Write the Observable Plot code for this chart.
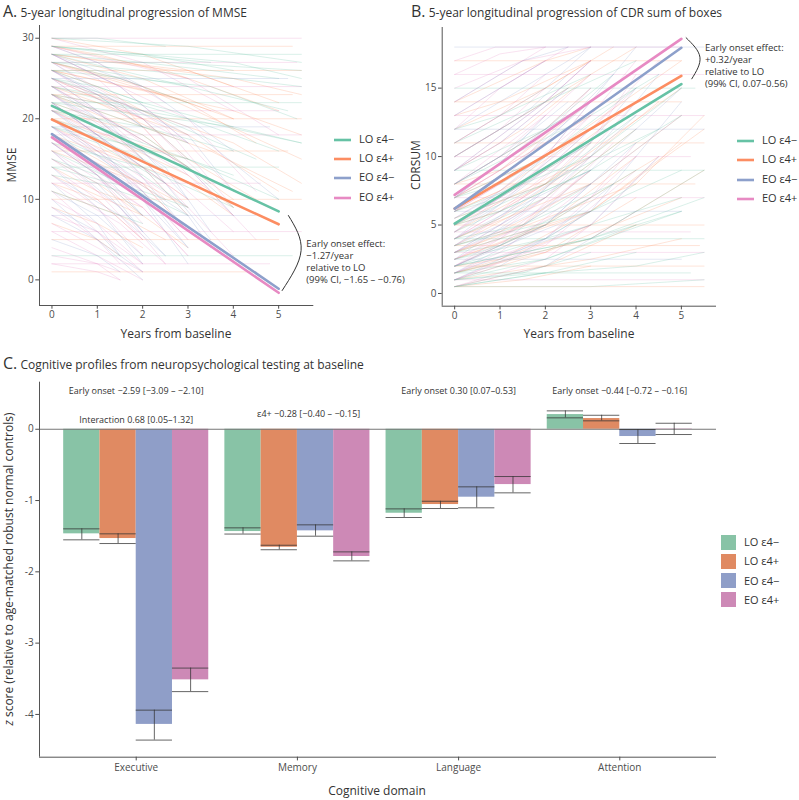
<!DOCTYPE html>
<html><head><meta charset="utf-8">
<script src="https://cdn.jsdelivr.net/npm/d3@7"></script>
<script src="https://cdn.jsdelivr.net/npm/@observablehq/plot@0.6"></script>
<style>
body{margin:0;background:#fff;font-family:"Open Sans",sans-serif;color:#333}
#root{position:relative;width:799px;height:800px;overflow:hidden;background:#fff}
.title{font-size:12px;white-space:nowrap;color:#333;line-height:16px}
.title span{font-size:16px}
.axt{font-size:12px;white-space:nowrap;color:#333;transform:translate(-50%,-50%);line-height:14px}
.rot{transform:translate(-50%,-50%) rotate(-90deg)}
.leg{font-size:11px;color:#333;white-space:nowrap;line-height:14px}
svg{overflow:visible}
</style></head><body><div id="root"></div>
<script>
// ---------- data ----------
const groups = ["LO ε4−", "LO ε4+", "EO ε4−", "EO ε4+"];
const lineColors = ["#66c2a5", "#fc8d62", "#8da0cb", "#e78ac3"];
const barColors = ["#88c3a6", "#e08a62", "#8f9ec8", "#cd89b6"];

const yearTicks = [0, 1, 2, 3, 4, 5];
const mmseTicks = [0, 10, 20, 30];
const cdrTicks = [0, 5, 10, 15];
const zTicks = [0, -1, -2, -3, -4];

// Group mean trajectories (value at year 0, value at year 5)
const meanYears = [0, 5];
const mmseMeanStart = [21.6, 19.9, 18.1, 17.7];
const mmseMeanEnd = [8.5, 6.9, -1.1, -1.6];
const cdrMeanStart = [5.1, 6.2, 6.2, 7.2];
const cdrMeanEnd = [15.3, 15.9, 17.95, 18.6];

// Individual trajectories (estimated): [baseline, t1, v1, t2, v2] per group
const mmseTraj = [
  [[29,2,28,4,26],[28,3,24,5.2,21],[27,1.5,25,3,22],[26,2,22,4,19],[25,3,20,5,16],[24,2,21,4.5,15],[23,1,21,3,17],[22,2,18,3.5,12],[21,1.5,18,4,13],[20,2,15,3,12],[19,1,17,2.5,12],[18,2,13,3,9],[16,1.5,12,3,8],[30,3,29,5.5,27],[27,2.5,27,5.5,26],[24,1,23,2,19],[20,3,14,4,9],[15,1,13,2,8],[29,4,27,5.5,25],[26,3.5,24,5.4,20],
   [30,1,30,2.5,29],[29,1.5,28,3.5,27],[28,2,27,5,25],[27,4,25,5.5,24],[25,1,24,2,22],[23,3,20,5.5,17],[22,4,19,5.5,17],[21,2,19,4,16],[19,3,15,5,10],[17,2,14,4,9],[14,2,11,3,9],[13,1,12,2,10],[11,1,9,2,7],[26,1,26,3,24]],
  [[28,2,25,4,20],[26,1,24,3,18],[25,2,20,3,15],[24,1.5,22,2.5,16],[23,2,18,4,10],[22,1,20,2,15],[21,3,13,4,9],[20,1.5,16,3,10],[19,2,14,3,8],[18,1,15,2.5,10],[17,2,12,3,6],[15,1,12,2,8],[13,2,8,3,4],[29,2.5,26,5,21],[27,3,22,4.5,17],[25,4,17,5.5,12],[12,1,10,2,5],[28,4,25,5.5,23],[23,3.5,16,5.3,11],[26,2.5,23,4,20],
   [30,2,28,4,24],[29,1,28,3,25],[28,3,26,5,22],[27,1.5,25,3.5,21],[26,4,21,5.5,18],[24,3,18,5,11],[23,1,22,2.5,18],[21,1.5,19,3,14],[20,3,15,4.5,10],[18,3,12,4,8],[16,2,12,3,9],[14,1,11,2,9],[11,1.5,8,2.5,5],[9,1,7,2,4],[7,1,5,1.5,3],[27,2,24,5.5,15]],
  [[27,2,20,3,15],[25,1,21,2.5,12],[24,2,16,3,10],[22,1.5,16,3,6],[21,1,17,2,10],[20,2,11,3,4],[19,1,14,2,8],[18,2,10,3,2],[17,1,13,2,6],[16,1.5,9,2.5,3],[14,1,9,2,2],[12,1,7,1.5,3],[10,1,5,2,0],[26,3,18,4,11],[23,2.5,14,3.5,6],[8,1,5,2,1],[28,2,24,4,16],[25,3,19,5,10],
   [29,1,27,2,24],[28,1.5,24,3,17],[26,1,23,2,19],[24,3,14,4,8],[23,1,20,2,15],[22,2.5,12,3.5,5],[21,2,14,3,8],[20,1,16,2,12],[19,3,8,3.5,4],[17,2,10,3,4],[15,1,12,2,6],[13,1.5,8,2.5,3],[11,1,8,2,3],[9,1,6,1.5,3],[5,1,3,1.5,1]],
  [[28,1.5,24,3,17],[26,2,19,3,13],[25,1,21,2,16],[23,2,15,3,9],[22,1,18,2.5,10],[20,1.5,14,3,5],[19,2,12,3,6],[18,1,13,2,7],[17,2,9,3,3],[16,1,11,2,5],[15,1.5,9,2.5,2],[13,1,9,2,3],[11,1,6,2,1],[9,1,5,1.5,2],[27,2.5,19,4,9],[24,3,14,4.5,5],[6,1,3,2,0],[30,2,27,4,21],[29,3,25,5,18],[21,2,16,4,6],
   [29,1,27,2.5,22],[28,3,20,4.5,11],[27,1,25,2,20],[26,3,17,4,11],[25,2,20,3.5,12],[24,1,21,2,17],[23,3,13,4,8],[22,2,14,3,10],[21,1,18,2,13],[20,3,9,4,3],[19,1,16,2,11],[18,2,11,3,5],[17,1,13,2,8],[16,2,9,3,3],[14,1,10,2,5],[12,1.5,7,2.5,2],[10,1,7,2,2],[8,1,6,2,2],[7,1,4,2,1],[4,1,2,1.5,0],[3,1,2,1.5,1],[2,1,1,1.5,0]]
];
// Flat trajectories: [group, level, last year]
const mmseFlat = [[3,30,5.5],[1,29,5.3],[0,28,5.5],[3,27,5.4],[1,26,5.5],[2,25,5.2],[3,24,5.5],[1,23,5.3],[0,22,5.5],[3,21,5.0],[1,20,5.5],[2,19,4.8],[3,18,5.5],[1,16,5.2],[0,14,5.0],[3,12,4.6],[1,10,5.5],[2,8,4.5],[3,6,5.5],[1,5,5.0],[0,3,5.3],[3,2,4.8],[1,1,4.5]];

const cdrTraj = [
  [[0.5,2,1.5,4,3],[1,2,2.5,5,6],[1.5,3,4,5.5,7],[2,2,4,4,8],[2.5,1,3.5,3,7],[3,2,5,4,9],[3.5,1.5,5,3,8],[4,2,7,4,12],[4.5,3,9,5,13],[5,2,8,4,13],[6,1,7,3,11],[7,2,10,4,15],[8,1.5,11,3,14],[9,2,12,3.5,16],[10,1,12,2.5,15],[0.5,3,0.5,5.5,1],[1,4,2,5.5,3],[2,3,4,5.5,9],
   [0.5,1,1,2,1.5],[1,1.5,1.5,3,3],[1.5,2,2.5,4,5],[2,3,4,5,6],[2.5,2,4,5,7],[3,1,3.5,2,5],[3.5,3,6,5,9],[4,1.5,5,3.5,8],[5,1,6,3,9],[5.5,2,8,4.5,12],[6,3,10,5,15],[7,1,8,3,12],[8,3,13,4.5,16],[11,2,14,4,17],[12,1,13,3,16]],
  [[0.5,2,2,4,5],[1,2,3,4,7],[1.5,1,2.5,3,6],[2,2,5,4,10],[2.5,3,6,5,11],[3,1.5,5,3,9],[3.5,2,7,4,12],[4,1,5.5,3,10],[4.5,2,8,3,11],[5,3,10,4.5,14],[6,2,9,4,14],[7,1,9,3,14],[8,2,12,3,15],[9,1.5,12,3,16],[11,2,15,3,17],[1.5,3,4,5.5,9],[3,4,8,5.5,13],
   [0.5,1.5,1,3,2],[1,3,2.5,5,4],[1.5,2,3,5,7],[2,1,2.5,3,5],[2.5,2,5,4.5,10],[3,3,6,5.5,12],[3.5,1,4.5,3,8],[4,3,8,5,13],[5,1,6,2.5,9],[5.5,2,8,5,15],[6,1,7.5,3,12],[7,2,10,5,17],[8,1,9,3,13],[10,2,14,4,18],[12,2,15,3.5,18],[13,1,14,3,17],[14,2,17,3,18]],
  [[1,2,4,3.5,8],[1.5,2,5,3,8],[2,1,3.5,3,9],[2.5,2,7,4,13],[3,1.5,6,3,11],[4,2,9,3,12],[4.5,1,6.5,2.5,11],[5,2,10,3,14],[6,1,8.5,3,14],[7,2,12,3,15],[8,1,10,2.5,14],[9,2,14,3,17],[10,1.5,13,2.5,16],[12,2,16,3,18],[3.5,3,10,4.5,16],[2,3,6,5,14],
   [0.5,2,2,4,6],[1,1,2,3,6],[1.5,3,5,4.5,10],[2,2,5,4,11],[3,3,8,5,13],[3.5,1,5,2.5,9],[4,3,9,5,15],[5,1,7,2,10],[5.5,3,11,4,15],[6,2,11,3.5,16],[7,1,9.5,2,13],[8,3,14,4,18],[9,1,11,2.5,15],[11,2,15,3,18],[13,1,15,2,17],[14,1.5,17,2.5,18]],
  [[1,2,3.5,4,9],[1.5,1,3,3,8],[2,2,6,3.5,11],[2.5,1.5,5,3,10],[3,2,7,4,14],[3.5,1,5.5,2.5,10],[4,2,8,3.5,13],[5,1.5,8,3,13],[6,2,10,3,14],[7,1,9,2.5,13],[8,2,13,3,16],[9,1,11,2.5,15],[10,2,14,3,17],[11,1,13,2,16],[13,2,17,2.5,18],[16,1,17.5,2,18],[17,0.9,18,5,18],[4.5,3,12,4.5,17],
   [0.5,2,2.5,3,5],[1,3,5,4.5,10],[1.5,2,4,4,10],[2,3,7,4,11],[2.5,1,4,3,9],[3,1,4.5,2,7],[4,1,6,2.5,10],[4.5,2,9,4,15],[5,3,11,4,16],[5.5,1,7.5,3,13],[6,1,8,3,15],[7,3,13,4,17],[8,1,10,2,13],[9,2,14,3,17],[10,1,12,2,15],[12,1,15,2,17],[14,1,16,2,18],[15,1.5,17,3,18]]
];
const cdrFlat = [[1,0.5,5.5],[3,1,5.5],[0,1.5,5.2],[1,2,5.5],[2,2.5,5.0],[3,3,5.5],[1,3.5,5.4],[0,4,5.5],[3,4.5,5.2],[1,5,5.5],[2,6,5.0],[3,7,5.5],[1,8,5.3],[0,9,5.5],[3,10,5.2],[1,11,5.5],[2,12,5.5],[3,13,5.5],[1,14,5.0],[0,15,5.3],[3,16,5.5],[1,17,5.0],[2,18,5.5]];

// Annotations (data coordinates)
const mmseBracketX = [5.215, 5.495, 5.077];
const mmseBracketY = [7.99, 3.65, -1.32];
const mmseNote = "Early onset effect:\n−1.27/year\nrelative to LO\n(99% CI, −1.65 – −0.76)";
const mmseNoteX = 5.61, mmseNoteY = 2.31;
const cdrBracketX = [5.105, 5.41, 5.23];
const cdrBracketY = [18.68, 17.26, 15.68];
const cdrNote = "Early onset effect:\n+0.32/year\nrelative to LO\n(99% CI, 0.07–0.56)";
const cdrNoteX = 5.52, cdrNoteY = 16.67;

// Panel C: cognitive domain z scores, rows = groups, cols = domains
const domains = ["Executive", "Memory", "Language", "Attention"];
const zMean = [[-1.467,-1.435,-1.178,0.206],[-1.533,-1.655,-1.056,0.15],[-4.14,-1.425,-0.953,-0.102],[-3.515,-1.785,-0.776,0.005]];
const zLow  = [[-1.551,-1.47,-1.238,0.16],[-1.603,-1.69,-1.112,0.118],[-4.36,-1.50,-1.102,-0.2],[-3.68,-1.846,-0.892,-0.074]];
const zHigh = [[-1.397,-1.383,-1.117,0.258],[-1.467,-1.627,-1.01,0.196],[-3.94,-1.341,-0.808,-0.004],[-3.35,-1.72,-0.663,0.084]];
const zNotes = ["Early onset −2.59 [−3.09 – −2.10]", "Interaction 0.68 [0.05–1.32]", "ε4+ −0.28 [−0.40 – −0.15]", "Early onset 0.30 [0.07–0.53]", "Early onset −0.44 [−0.72 – −0.16]"];
const zNoteDomain = [0, 0, 1.07, 2, 3];
const zNoteY = [0.533, 0.132, 0.216, 0.533, 0.533];

// ---------- helpers ----------
const root = document.getElementById("root");
function place(el, left, top) { el.style.position = "absolute"; el.style.left = left + "px"; el.style.top = top + "px"; root.appendChild(el); return el; }
function div(cls, html, left, top) { const d = document.createElement("div"); d.className = cls; d.innerHTML = html; return place(d, left, top); }

function buildTraj(sets, flat) {
  const pts = []; let id = 0;
  sets.forEach((arr, g) => arr.forEach(r => {
    pts.push({id, g, t: 0, v: r[0]});
    for (let k = 1; k < r.length; k += 2) pts.push({id, g, t: r[k], v: r[k + 1]});
    id++;
  }));
  flat.forEach(([g, lev, tEnd]) => { pts.push({id, g, t: 0, v: lev}); pts.push({id, g, t: tEnd, v: lev}); id++; });
  return pts;
}

const baseStyle = {fontFamily: "Open Sans", fontSize: "10px", color: "#4d4d4d", background: "transparent", overflow: "visible"};

function longPanel(opts) {
  const traj = buildTraj(opts.traj, opts.flat);
  const marks = [];
  [1, 3, 0, 2].forEach(i => marks.push(Plot.line(traj.filter(d => d.g === i), {x: "t", y: "v", z: "id", stroke: lineColors[i], strokeOpacity: 0.3, strokeWidth: 0.8})));
  groups.forEach((g, i) => marks.push(Plot.line(meanYears.map((t, k) => ({t, v: k === 0 ? opts.start[i] : opts.end[i]})), {x: "t", y: "v", stroke: lineColors[i], strokeWidth: 2.6})));
  marks.push(Plot.line(opts.bx.map((x, k) => ({x, y: opts.by[k]})), {x: "x", y: "y", curve: "natural", stroke: "#333", strokeWidth: 1}));
  marks.push(Plot.text([opts.note], {x: opts.noteX, y: opts.noteY, text: d => d, textAnchor: "start", lineAnchor: "middle", lineHeight: 1.27, fontSize: 9.5, fill: "#333"}));
  marks.push(Plot.ruleX([opts.xd[0]], {stroke: "#555", strokeWidth: 1}));
  marks.push(Plot.ruleY([opts.yd[0]], {stroke: "#555", strokeWidth: 1}));
  marks.push(Plot.axisX({ticks: yearTicks, tickSize: 3.7, tickPadding: 2, fontSize: 10, label: null, tickFormat: d => String(d)}));
  marks.push(Plot.axisY({ticks: opts.yticks, tickSize: 3.7, tickPadding: 2, fontSize: 10, label: null, tickFormat: d => String(d)}));
  return Plot.plot({
    width: opts.width, height: opts.height,
    marginLeft: opts.ml, marginRight: opts.mr, marginTop: opts.mt, marginBottom: opts.mb,
    x: {domain: opts.xd}, y: {domain: opts.yd},
    style: baseStyle, marks
  });
}

// ---------- Panel A ----------
const pA = longPanel({traj: mmseTraj, flat: mmseFlat, start: mmseMeanStart, end: mmseMeanEnd,
  bx: mmseBracketX, by: mmseBracketY, note: mmseNote, noteX: mmseNoteX, noteY: mmseNoteY,
  xd: [-0.275, 5.775], yd: [-3.18, 31.58], yticks: mmseTicks,
  width: 400, height: 322, ml: 39, mr: 86.7, mt: 5, mb: 37});
place(pA, 0, 20);

// ---------- Panel B ----------
const pB = longPanel({traj: cdrTraj, flat: cdrFlat, start: cdrMeanStart, end: cdrMeanEnd,
  bx: cdrBracketX, by: cdrBracketY, note: cdrNote, noteX: cdrNoteX, noteY: cdrNoteY,
  xd: [-0.275, 5.775], yd: [-0.93, 19.43], yticks: cdrTicks,
  width: 399, height: 322, ml: 41.7, mr: 83, mt: 7, mb: 36.3});
place(pB, 400, 20);

// ---------- Panel C ----------
const bars = [];
groups.forEach((g, gi) => domains.forEach((dname, di) => {
  const x1 = di - 0.45 + gi * 0.225;
  bars.push({g: gi, x1, x2: x1 + 0.225, xc: x1 + 0.1125, v: zMean[gi][di], lo: zLow[gi][di], hi: zHigh[gi][di]});
}));
const errStroke = "#333";
const pC = Plot.plot({
  width: 799, height: 425, marginLeft: 39, marginRight: 83, marginTop: 6.7, marginBottom: 43.3,
  x: {domain: [-0.6, 3.6]}, y: {domain: [-4.6, 0.66]},
  style: baseStyle,
  marks: [
    Plot.rectY(bars, {x1: "x1", x2: "x2", y1: 0, y2: "v", fill: d => barColors[d.g]}),
    Plot.ruleY([0], {stroke: "#777", strokeWidth: 1}),
    Plot.ruleX(bars, {x: "xc", y1: "lo", y2: "hi", stroke: errStroke, strokeOpacity: 0.75, strokeWidth: 1}),
    Plot.ruleY(bars, {y: "lo", x1: "x1", x2: "x2", stroke: errStroke, strokeOpacity: 0.75, strokeWidth: 1}),
    Plot.ruleY(bars, {y: "hi", x1: "x1", x2: "x2", stroke: errStroke, strokeOpacity: 0.75, strokeWidth: 1}),
    Plot.text(zNotes, {x: (d, i) => zNoteDomain[i], y: (d, i) => zNoteY[i], text: d => d, fontSize: 9, fill: "#333"}),
    Plot.ruleX([-0.6], {stroke: "#555", strokeWidth: 1}),
    Plot.ruleY([-4.6], {stroke: "#555", strokeWidth: 1}),
    Plot.axisX({ticks: [0, 1, 2, 3], tickSize: 3.7, tickPadding: 3, fontSize: 10, label: null, tickFormat: i => domains[i]}),
    Plot.axisY({ticks: zTicks, tickSize: 3.7, tickPadding: 2, fontSize: 10, label: null, tickFormat: d => String(d)})
  ]
});
place(pC, 0, 375);

// ---------- titles & axis titles ----------
div("title", "<span>A.</span> 5-year longitudinal progression of MMSE", 3, 3);
div("title", "<span>B.</span> 5-year longitudinal progression of CDR sum of boxes", 411, 3);
div("title", "<span>C.</span> Cognitive profiles from neuropsychological testing at baseline", 3, 355);
div("axt", "Years from baseline", 176, 334);
div("axt", "Years from baseline", 579, 334);
div("axt rot", "MMSE", 12, 165);
div("axt rot", "CDRSUM", 416, 165);
div("axt rot", "<i>z</i> score (relative to age-matched robust normal controls)", 9, 569);
div("axt", "Cognitive domain", 377, 791);

// ---------- legends ----------
function lineLegend(x, yCenters) {
  groups.forEach((g, i) => {
    const d = document.createElement("div");
    d.className = "leg";
    d.innerHTML = `<svg width="17" height="4" style="vertical-align:middle;margin-right:8px"><line x1="0" x2="17" y1="2" y2="2" stroke="${lineColors[i]}" stroke-width="2.6"/></svg>${g}`;
    place(d, x, yCenters[i] - 7);
  });
}
lineLegend(334, [138.5, 157.9, 177.2, 196.5]);
lineLegend(737, [140, 159.3, 178.6, 197.9]);
groups.forEach((g, i) => {
  const sq = document.createElement("div");
  sq.style.cssText = `width:17px;height:17px;background:${barColors[i]};border:0.5px solid #fff;box-sizing:border-box`;
  place(sq, 719.5, 533.5 + i * 19.3);
  div("leg", g, 744, 535 + i * 19.3);
});
</script></body></html>
